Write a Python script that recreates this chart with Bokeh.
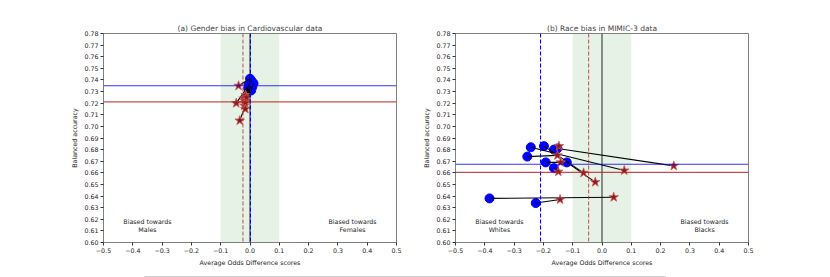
import numpy as np
from bokeh.plotting import figure
from bokeh.layouts import row, column
from bokeh.models import FixedTicker, CustomJSTickFormatter, Span, BoxAnnotation
from bokeh.core.properties import value
from bokeh.embed import file_html
from bokeh.resources import INLINE

# ---- data: (a) Gender bias in Cardiovascular data ----
a_real_aod = [0.000, 0.006, 0.012, -0.004, 0.002, 0.008, -0.006, -0.002, 0.004, -0.004]
a_real_acc = [0.741, 0.739, 0.737, 0.736, 0.735, 0.734, 0.733, 0.732, 0.731, 0.732]
a_syn_aod = [-0.039, -0.047, -0.035, -0.022, -0.020, -0.018, -0.015, -0.016, -0.012, -0.016]
a_syn_acc = [0.735, 0.720, 0.705, 0.724, 0.718, 0.722, 0.727, 0.720, 0.725, 0.715]

# ---- data: (b) Race bias in MIMIC-3 data ----
b_real_aod = [-0.243, -0.198, -0.164, -0.152, -0.255, -0.192, -0.120, -0.164, -0.384, -0.226]
b_real_acc = [0.682, 0.683, 0.680, 0.681, 0.674, 0.669, 0.669, 0.664, 0.638, 0.634]
b_syn_aod = [0.076, -0.063, -0.147, 0.245, -0.152, -0.141, -0.023, -0.149, 0.040, -0.143]
b_syn_acc = [0.662, 0.660, 0.683, 0.666, 0.675, 0.669, 0.652, 0.661, 0.639, 0.637]

titles = ["(a) Gender bias in Cardiovascular data", "(b) Race bias in MIMIC-3 data"]
left_notes = ["Biased towards\nMales", "Biased towards\nWhites"]
right_notes = ["Biased towards\nFemales", "Biased towards\nBlacks"]
x_ticks = [-0.5, -0.4, -0.3, -0.2, -0.1, 0.0, 0.1, 0.2, 0.3, 0.4, 0.5]
y_ticks = [0.60, 0.61, 0.62, 0.63, 0.64, 0.65, 0.66, 0.67, 0.68, 0.69, 0.70,
           0.71, 0.72, 0.73, 0.74, 0.75, 0.76, 0.77, 0.78]
fair_band = (-0.1, 0.1)
legend_labels = ["Real - Balanced", "Synthetic - Balanced",
                 "Real - Average Odds", "Synthetic - Average Odds"]

FONT = "DejaVu Sans"
FONT_VALUE = value(FONT)
SPINE = "#808080"


def panel(title, ra, racc, sa, sacc, lnote, rnote, width, bl, br):
    p = figure(width=width, height=269, x_range=(-0.5, 0.5), y_range=(0.60, 0.78),
               output_backend="svg", toolbar_location=None, title=title,
               min_border_left=bl, min_border_right=br, min_border_top=33,
               min_border_bottom=27)
    p.title.text_font = FONT
    p.title.text_font_size = "7.5px"
    p.title.text_font_style = "normal"
    p.title.align = "center"
    p.title.standoff = 2
    p.title.offset = 0
    p.grid.visible = False
    p.outline_line_color = SPINE
    p.outline_line_width = 1
    for ax in (p.xaxis[0], p.yaxis[0]):
        ax.axis_line_color = SPINE
        ax.major_tick_line_color = "#333333"
        ax.major_tick_out = 3
        ax.major_tick_in = 0
        ax.minor_tick_line_color = None
        ax.major_label_text_font = FONT
        ax.major_label_text_font_size = "6.3px"
        ax.major_label_text_color = "#222222"
        ax.axis_label_text_font = FONT
        ax.axis_label_text_font_size = "6.3px"
        ax.axis_label_text_font_style = "normal"
        ax.axis_label_text_color = "#222222"
        ax.major_label_standoff = 2
        ax.axis_label_standoff = 3
    p.xaxis.ticker = FixedTicker(ticks=x_ticks)
    p.yaxis.ticker = FixedTicker(ticks=y_ticks)
    p.xaxis.formatter = CustomJSTickFormatter(code="return tick.toFixed(1).replace('-', '\u2212');")
    p.yaxis.formatter = CustomJSTickFormatter(code="return tick.toFixed(2);")
    p.xaxis.axis_label = "Average Odds Difference scores"
    p.yaxis.axis_label = "Balanced accuracy"

    p.add_layout(BoxAnnotation(left=fair_band[0], right=fair_band[1], fill_color="green",
                               fill_alpha=0.1, line_color=None, level="underlay"))
    p.add_layout(Span(location=0.0, dimension="height", line_color="black",
                      line_alpha=0.7, line_width=1.2))
    p.add_layout(Span(location=float(np.mean(ra)), dimension="height", line_color="blue",
                      line_dash="4 2", line_width=1.1))
    p.add_layout(Span(location=float(np.mean(sa)), dimension="height", line_color="firebrick",
                      line_alpha=0.7, line_dash="4 2", line_width=1.1))
    p.add_layout(Span(location=float(np.mean(racc)), dimension="width", line_color="blue",
                      line_alpha=0.8, line_width=1.2))
    p.add_layout(Span(location=float(np.mean(sacc)), dimension="width", line_color="firebrick",
                      line_alpha=0.8, line_width=1.2))

    p.scatter(ra, racc, marker="circle", size=9, fill_color="blue", line_color="blue")
    p.segment(x0=ra, y0=racc, x1=sa, y1=sacc, line_color="black", line_width=1.1)
    p.scatter(sa, sacc, marker="star", size=10, fill_color="#8b1a1a",
              line_color="#cd5c5c", line_width=0.8)

    p.text(x=[-0.35, 0.35], y=[0.615, 0.615], text=[lnote, rnote],
           text_align="center", text_baseline="middle", text_font_size="6.3px",
           text_color="#222222", text_font=FONT_VALUE, text_line_height=1.15)
    return p


p1 = panel(titles[0], a_real_aod, a_real_acc, a_syn_aod, a_syn_acc,
           left_notes[0], right_notes[0], 410, 103, 14)
p2 = panel(titles[1], b_real_aod, b_real_acc, b_syn_aod, b_syn_acc,
           left_notes[1], right_notes[1], 412, 45, 74)

# shared legend strip (only its top edge is visible in the window)
leg = figure(width=822, height=8, x_range=(0, 822), y_range=(8, 0),
             output_backend="svg", toolbar_location=None, min_border=0,
             x_axis_type=None, y_axis_type=None)
leg.outline_line_color = None
leg.grid.visible = False
leg.quad(left=[144], right=[665], top=[3], bottom=[20], fill_color="white",
         line_color="#cccccc", line_width=1)
leg.text(x=[300, 388, 485, 582], y=[5.2] * 4, text=legend_labels,
         text_baseline="top", text_font_size="6.3px", text_color="#222222",
         text_font=FONT_VALUE)

layout = column(row(p1, p2, spacing=0), leg, spacing=0)
open("out.html", "w").write(file_html(layout, INLINE))
